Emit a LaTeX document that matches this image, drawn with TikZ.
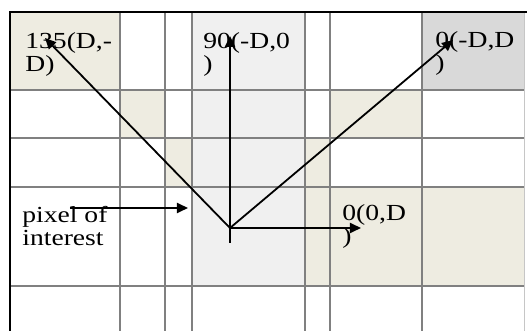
\documentclass[tikz,border=0pt]{standalone}
\usepackage{fontspec}
\setmainfont{Liberation Serif}
\newfontfamily\pxfont[FakeStretch=1.2]{Liberation Serif}
\usetikzlibrary{arrows.meta,positioning,calc}
\definecolor{pxBeige}{HTML}{EEECE1}
\definecolor{pxLight}{HTML}{F0F0F0}
\definecolor{pxDark}{HTML}{D9D9D9}
\definecolor{pxGrid}{HTML}{808080}

\begin{document}
\begin{tikzpicture}[x=0.5pt, y=-0.5pt,
  grd/.style={pxGrid, line width=0.7pt},
  brd/.style={black, line width=1.3pt},
  arr/.style={-{Triangle[length=5.5pt, width=5pt]}, line width=0.9pt, black},
  lbl/.style={font=\pxfont\fontsize{11.5}{11.5}\selectfont, anchor=north west, inner sep=0pt, align=left}]
\useasboundingbox (0,0) rectangle (527,331);
% shaded cells
\foreach \xa/\xb/\ya/\yb/\c in {10/120/12/90/pxBeige, 192/305/12/286/pxLight, 422/525/12/90/pxDark,
  120/165/90/138/pxBeige, 330/422/90/138/pxBeige, 165/192/138/187/pxBeige,
  305/330/138/187/pxBeige, 305/525/187/286/pxBeige}{\fill[\c] (\xa,\ya) rectangle (\xb,\yb);}
% grid
\foreach \x in {120,165,192,305,330,422}{\draw[grd] (\x,12) -- (\x,331);}
\foreach \y in {90,138,187,286}{\draw[grd] (10,\y) -- (525,\y);}
\draw[pxGrid!45, line width=0.5pt] (525,12) -- (525,331);
\draw[brd] (10,331) -- (10,12) -- (527,12);
% labels
\node[lbl] (l135) at (25,32) {135(D,-\\D)};
\node[lbl] (l90) at (203,32) {90(-D,0\\)};
\node[lbl] (l45) at (435,31) {0(-D,D\\)};
\node[lbl] (lpix) at (22,206) {pixel of\\interest};
\node[lbl] (l0) at (342,204) {0(0,D\\)};
% directions
\coordinate (o) at (230,228);
\coordinate (otail) at (230,243);
\coordinate (t135) at (45,38);
\coordinate (t90) at (230,36);
\coordinate (t45) at (453,40);
\coordinate (t0) at (361,228);
\coordinate (pstart) at (70,208);
\coordinate (pend) at (188,208);
\foreach \a/\b in {o/t135,otail/t90,o/t45,o/t0,pstart/pend}{\draw[arr] (\a) -- (\b);}
\end{tikzpicture}
\end{document}
